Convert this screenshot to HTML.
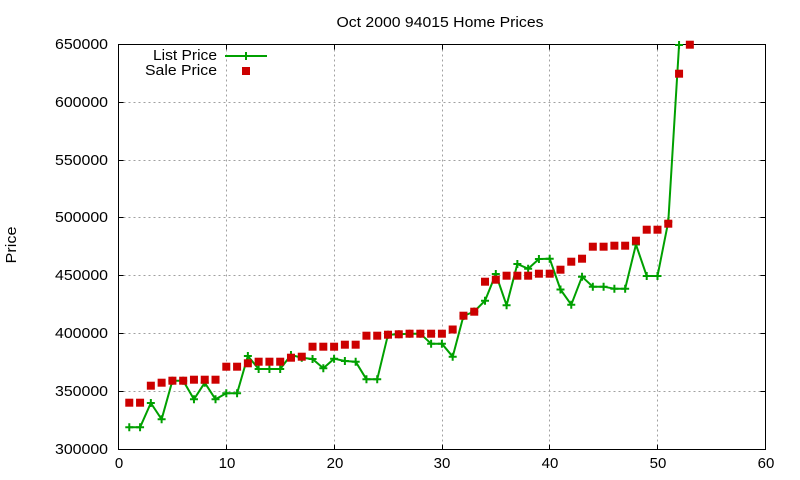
<!DOCTYPE html>
<html>
<head>
<meta charset="utf-8">
<style>
html,body{margin:0;padding:0;background:#fff;}
svg{display:block;}
text{font-family:"Liberation Sans",Arial,sans-serif;fill:#000;}
</style>
</head>
<body>
<svg width="800" height="480" viewBox="0 0 800 480" xmlns="http://www.w3.org/2000/svg">
<defs>
<path id="p" d="M-4 0h8M0 -4v8" stroke="#00a000" stroke-width="2" fill="none"/>
<rect id="s" x="-4" y="-4" width="8" height="8" fill="#cc0000"/>
</defs>
<rect x="0" y="0" width="800" height="480" fill="#fff"/>
<g stroke="#a0a0a0" stroke-width="1" stroke-dasharray="2,3" fill="none">
<path d="M226.5 44.5V449.5M334.5 44.5V449.5M442.5 44.5V449.5M549.5 44.5V449.5M657.5 44.5V449.5"/>
<path d="M118.5 102.5H765.5M118.5 160.5H765.5M118.5 217.5H765.5M118.5 275.5H765.5M118.5 333.5H765.5M118.5 391.5H765.5"/>
</g>
<g stroke="#000" stroke-width="1" fill="none">
<rect x="118.5" y="44.5" width="647" height="405"/>
<path d="M118.5 102.5h5M118.5 160.5h5M118.5 217.5h5M118.5 275.5h5M118.5 333.5h5M118.5 391.5h5M765.5 102.5h-5M765.5 160.5h-5M765.5 217.5h-5M765.5 275.5h-5M765.5 333.5h-5M765.5 391.5h-5M226.5 449.5v-5M334.5 449.5v-5M442.5 449.5v-5M549.5 449.5v-5M657.5 449.5v-5M226.5 44.5v5M334.5 44.5v5M442.5 44.5v5M549.5 44.5v5M657.5 44.5v5"/>
</g>
<g font-size="15" text-anchor="end">
<text x="108" y="49" textLength="53" lengthAdjust="spacingAndGlyphs">650000</text>
<text x="108" y="107" textLength="53" lengthAdjust="spacingAndGlyphs">600000</text>
<text x="108" y="165" textLength="53" lengthAdjust="spacingAndGlyphs">550000</text>
<text x="108" y="222" textLength="53" lengthAdjust="spacingAndGlyphs">500000</text>
<text x="108" y="280" textLength="53" lengthAdjust="spacingAndGlyphs">450000</text>
<text x="108" y="338" textLength="53" lengthAdjust="spacingAndGlyphs">400000</text>
<text x="108" y="396" textLength="53" lengthAdjust="spacingAndGlyphs">350000</text>
<text x="108" y="454" textLength="53" lengthAdjust="spacingAndGlyphs">300000</text>
</g>
<g font-size="15" text-anchor="middle">
<text x="119" y="468">0</text>
<text x="227" y="468">10</text>
<text x="335" y="468">20</text>
<text x="442" y="468">30</text>
<text x="550" y="468">40</text>
<text x="658" y="468">50</text>
<text x="766" y="468">60</text>
</g>
<text x="440" y="27" font-size="15" text-anchor="middle" textLength="207" lengthAdjust="spacingAndGlyphs">Oct 2000 94015 Home Prices</text>
<text transform="translate(16,245) rotate(-90)" font-size="15" text-anchor="middle" textLength="37" lengthAdjust="spacingAndGlyphs">Price</text>
<text x="217" y="60" font-size="15" text-anchor="end" textLength="64" lengthAdjust="spacingAndGlyphs">List Price</text>
<text x="217" y="75" font-size="15" text-anchor="end" textLength="72" lengthAdjust="spacingAndGlyphs">Sale Price</text>
<line x1="225" y1="56" x2="267" y2="56" stroke="#00a000" stroke-width="2"/>
<use href="#p" x="246" y="56"/>
<use href="#s" x="246" y="71"/>
<polyline fill="none" stroke="#00a000" stroke-width="2" stroke-linejoin="round" points="129.28,427.3 140.06,427.3 150.84,403.0 161.62,419.3 172.40,380.7 183.18,380.7 193.96,399.3 204.74,382.7 215.52,399.3 226.30,393.3 237.08,393.3 247.86,356.0 258.64,369.0 269.42,369.0 280.20,369.0 290.98,355.0 301.76,357.7 312.54,359.0 323.32,368.3 334.10,358.7 344.88,361.0 355.66,361.7 366.44,379.3 377.22,379.3 388.00,334.7 398.78,334.3 409.56,333.7 420.34,333.7 431.12,343.7 441.90,343.7 452.68,356.7 463.46,316.0 474.24,311.5 485.02,300.7 495.80,274.0 506.58,305.3 517.36,264.0 528.14,268.7 538.92,259.0 549.70,258.7 560.48,289.5 571.26,304.7 582.04,276.7 592.82,286.7 603.60,286.7 614.38,288.7 625.16,288.7 635.94,244.5 646.72,276.0 657.50,276.0 668.28,221.7 679.06,45"/>
<g>
<use href="#p" x="129.28" y="427.3"/><use href="#p" x="140.06" y="427.3"/><use href="#p" x="150.84" y="403.0"/><use href="#p" x="161.62" y="419.3"/><use href="#p" x="172.40" y="380.7"/><use href="#p" x="183.18" y="380.7"/><use href="#p" x="193.96" y="399.3"/><use href="#p" x="204.74" y="382.7"/><use href="#p" x="215.52" y="399.3"/><use href="#p" x="226.30" y="393.3"/>
<use href="#p" x="237.08" y="393.3"/><use href="#p" x="247.86" y="356.0"/><use href="#p" x="258.64" y="369.0"/><use href="#p" x="269.42" y="369.0"/><use href="#p" x="280.20" y="369.0"/><use href="#p" x="290.98" y="355.0"/><use href="#p" x="301.76" y="357.7"/><use href="#p" x="312.54" y="359.0"/><use href="#p" x="323.32" y="368.3"/><use href="#p" x="334.10" y="358.7"/>
<use href="#p" x="344.88" y="361.0"/><use href="#p" x="355.66" y="361.7"/><use href="#p" x="366.44" y="379.3"/><use href="#p" x="377.22" y="379.3"/><use href="#p" x="388.00" y="334.7"/><use href="#p" x="398.78" y="334.3"/><use href="#p" x="409.56" y="333.7"/><use href="#p" x="420.34" y="333.7"/><use href="#p" x="431.12" y="343.7"/><use href="#p" x="441.90" y="343.7"/>
<use href="#p" x="452.68" y="356.7"/><use href="#p" x="463.46" y="316.0"/><use href="#p" x="474.24" y="311.5"/><use href="#p" x="485.02" y="300.7"/><use href="#p" x="495.80" y="274.0"/><use href="#p" x="506.58" y="305.3"/><use href="#p" x="517.36" y="264.0"/><use href="#p" x="528.14" y="268.7"/><use href="#p" x="538.92" y="259.0"/><use href="#p" x="549.70" y="258.7"/>
<use href="#p" x="560.48" y="289.5"/><use href="#p" x="571.26" y="304.7"/><use href="#p" x="582.04" y="276.7"/><use href="#p" x="592.82" y="286.7"/><use href="#p" x="603.60" y="286.7"/><use href="#p" x="614.38" y="288.7"/><use href="#p" x="625.16" y="288.7"/><use href="#p" x="635.94" y="244.5"/><use href="#p" x="646.72" y="276.0"/><use href="#p" x="657.50" y="276.0"/>
<use href="#p" x="668.28" y="221.7"/><use href="#p" x="679.06" y="45"/>
</g>
<g>
<use href="#s" x="129.28" y="402.7"/><use href="#s" x="140.06" y="402.7"/><use href="#s" x="150.84" y="385.7"/><use href="#s" x="161.62" y="382.7"/><use href="#s" x="172.40" y="380.7"/><use href="#s" x="183.18" y="380.7"/><use href="#s" x="193.96" y="379.7"/><use href="#s" x="204.74" y="379.7"/><use href="#s" x="215.52" y="379.7"/><use href="#s" x="226.30" y="366.7"/>
<use href="#s" x="237.08" y="366.7"/><use href="#s" x="247.86" y="363.3"/><use href="#s" x="258.64" y="361.7"/><use href="#s" x="269.42" y="361.7"/><use href="#s" x="280.20" y="361.7"/><use href="#s" x="290.98" y="357.7"/><use href="#s" x="301.76" y="356.7"/><use href="#s" x="312.54" y="346.7"/><use href="#s" x="323.32" y="346.7"/><use href="#s" x="334.10" y="346.7"/>
<use href="#s" x="344.88" y="344.7"/><use href="#s" x="355.66" y="344.7"/><use href="#s" x="366.44" y="335.7"/><use href="#s" x="377.22" y="335.7"/><use href="#s" x="388.00" y="334.7"/><use href="#s" x="398.78" y="334.3"/><use href="#s" x="409.56" y="333.7"/><use href="#s" x="420.34" y="333.7"/><use href="#s" x="431.12" y="333.7"/><use href="#s" x="441.90" y="333.7"/>
<use href="#s" x="452.68" y="329.5"/><use href="#s" x="463.46" y="315.7"/><use href="#s" x="474.24" y="311.7"/><use href="#s" x="485.02" y="281.7"/><use href="#s" x="495.80" y="279.7"/><use href="#s" x="506.58" y="275.7"/><use href="#s" x="517.36" y="275.7"/><use href="#s" x="528.14" y="275.7"/><use href="#s" x="538.92" y="273.7"/><use href="#s" x="549.70" y="273.7"/>
<use href="#s" x="560.48" y="269.7"/><use href="#s" x="571.26" y="261.7"/><use href="#s" x="582.04" y="258.7"/><use href="#s" x="592.82" y="246.7"/><use href="#s" x="603.60" y="246.7"/><use href="#s" x="614.38" y="245.7"/><use href="#s" x="625.16" y="245.7"/><use href="#s" x="635.94" y="240.7"/><use href="#s" x="646.72" y="229.7"/><use href="#s" x="657.50" y="229.7"/>
<use href="#s" x="668.28" y="223.7"/><use href="#s" x="679.06" y="73.7"/><use href="#s" x="689.84" y="44.7"/>
</g>
</svg>
</body>
</html>
